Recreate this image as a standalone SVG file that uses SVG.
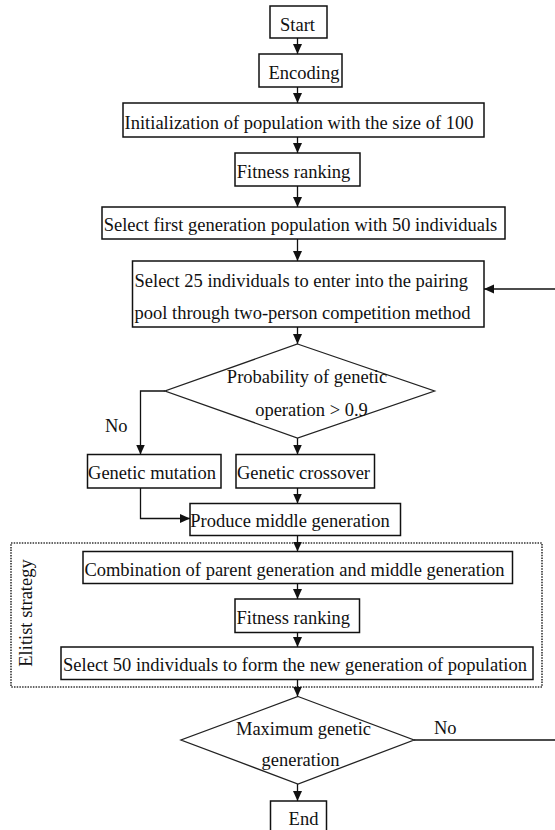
<svg xmlns="http://www.w3.org/2000/svg" width="555" height="830" viewBox="0 0 555 830">
<style>
  .box { fill: #ffffff; stroke: #111111; stroke-width: 1.5; }
  .dia { fill: #ffffff; stroke: #222222; stroke-width: 1.3; }
  .t { font-family: "Liberation Serif", "Times New Roman", serif; font-size: 18.5px; fill: #111111; }
  .m { text-anchor: middle; }
  .ln { fill: none; stroke: #111111; stroke-width: 1.3; }
  .dot { fill: none; stroke: #333333; stroke-width: 1.6; stroke-dasharray: 1.5 1.2; }
</style>
<defs>
  <marker id="arr" markerUnits="userSpaceOnUse" markerWidth="10" markerHeight="10" refX="10" refY="5" orient="auto">
    <path d="M0,0.5 L10,5 L0,9.5 z" fill="#111111"/>
  </marker>
</defs>
<rect width="555" height="830" fill="#ffffff"/>

<g id="elitist-group">
  <rect class="dot" x="11" y="543" width="531" height="144"/>
  <text class="t m" transform="translate(32,613) rotate(-90)">Elitist strategy</text>
</g>

<g id="connectors">
  <line class="ln" x1="297.5" y1="38" x2="297.5" y2="54" marker-end="url(#arr)"/>
  <line class="ln" x1="297.5" y1="87" x2="297.5" y2="103" marker-end="url(#arr)"/>
  <line class="ln" x1="297.5" y1="137" x2="297.5" y2="153" marker-end="url(#arr)"/>
  <line class="ln" x1="297.5" y1="186" x2="297.5" y2="207" marker-end="url(#arr)"/>
  <line class="ln" x1="297.5" y1="239" x2="297.5" y2="261" marker-end="url(#arr)"/>
  <line class="ln" x1="297.5" y1="327" x2="297.5" y2="344" marker-end="url(#arr)"/>
  <line class="ln" x1="297.5" y1="438" x2="297.5" y2="454.5" marker-end="url(#arr)"/>
  <polyline class="ln" points="165,391 140.5,391 140.5,454.5" marker-end="url(#arr)"/>
  <line class="ln" x1="297.5" y1="488" x2="297.5" y2="503.5" marker-end="url(#arr)"/>
  <polyline class="ln" points="140.5,488 140.5,518.5 190,518.5" marker-end="url(#arr)"/>
  <line class="ln" x1="297.5" y1="535.5" x2="297.5" y2="551.5" marker-end="url(#arr)"/>
  <line class="ln" x1="297.5" y1="583.5" x2="297.5" y2="599" marker-end="url(#arr)"/>
  <line class="ln" x1="297.5" y1="632.5" x2="297.5" y2="647" marker-end="url(#arr)"/>
  <line class="ln" x1="297.5" y1="679.5" x2="297.5" y2="696.5" marker-end="url(#arr)"/>
  <line class="ln" x1="297.5" y1="784" x2="297.5" y2="801" marker-end="url(#arr)"/>
  <line class="ln" x1="414" y1="740" x2="555" y2="740"/>
  <line class="ln" x1="555" y1="289" x2="484" y2="289" marker-end="url(#arr)"/>
  <text class="t" x="105" y="432">No</text>
  <text class="t" x="434" y="734">No</text>
</g>

<g id="start">
  <rect class="box" x="270" y="6" width="57" height="32"/>
  <text class="t m" x="297.5" y="31">Start</text>
</g>
<g id="encoding">
  <rect class="box" x="259" y="54" width="83" height="33"/>
  <text class="t m" x="304" y="79">Encoding</text>
</g>
<g id="init">
  <rect class="box" x="123" y="103" width="361" height="34"/>
  <text class="t m" x="299" y="129">Initialization of population with the size of 100</text>
</g>
<g id="fitness1">
  <rect class="box" x="235" y="153" width="125" height="33"/>
  <text class="t m" x="293.5" y="178">Fitness ranking</text>
</g>
<g id="select-first">
  <rect class="box" x="102" y="207" width="403" height="32"/>
  <text class="t m" x="300.5" y="231">Select first generation population with 50 individuals</text>
</g>
<g id="select25">
  <rect class="box" x="132.5" y="261" width="351.5" height="66"/>
  <text class="t" x="134.5" y="287">Select 25 individuals to enter into the pairing</text>
  <text class="t" x="134.5" y="318.5">pool through two-person competition method</text>
</g>
<g id="decision-prob">
  <polygon class="dia" points="297.5,344 434.5,391 297.5,438 165,391"/>
  <text class="t m" x="307" y="383">Probability of genetic</text>
  <text class="t m" x="311.5" y="416">operation &gt; 0.9</text>
</g>
<g id="mutation">
  <rect class="box" x="87.5" y="454.5" width="133.5" height="33.5"/>
  <text class="t m" x="152" y="479">Genetic mutation</text>
</g>
<g id="crossover">
  <rect class="box" x="236" y="454.5" width="138.5" height="33.5"/>
  <text class="t m" x="303.5" y="479">Genetic crossover</text>
</g>
<g id="produce">
  <rect class="box" x="190" y="503.5" width="210.5" height="32"/>
  <text class="t m" x="290" y="527">Produce middle generation</text>
</g>
<g id="combination">
  <rect class="box" x="83" y="551.5" width="429.5" height="32"/>
  <text class="t m" x="294.5" y="576">Combination of parent generation and middle generation</text>
</g>
<g id="fitness2">
  <rect class="box" x="235" y="599" width="124.5" height="33.5"/>
  <text class="t" x="236.5" y="623.5">Fitness ranking</text>
</g>
<g id="select50">
  <rect class="box" x="61" y="647" width="472" height="32.5"/>
  <text class="t m" x="295" y="671">Select 50 individuals to form the new generation of population</text>
</g>
<g id="decision-max">
  <polygon class="dia" points="298,696.5 414,740 298,784 181,740"/>
  <text class="t m" x="303.5" y="735">Maximum genetic</text>
  <text class="t m" x="300.5" y="766">generation</text>
</g>
<g id="end">
  <rect class="box" x="270.5" y="801" width="56" height="40"/>
  <text class="t m" x="303.5" y="825">End</text>
</g>
</svg>
